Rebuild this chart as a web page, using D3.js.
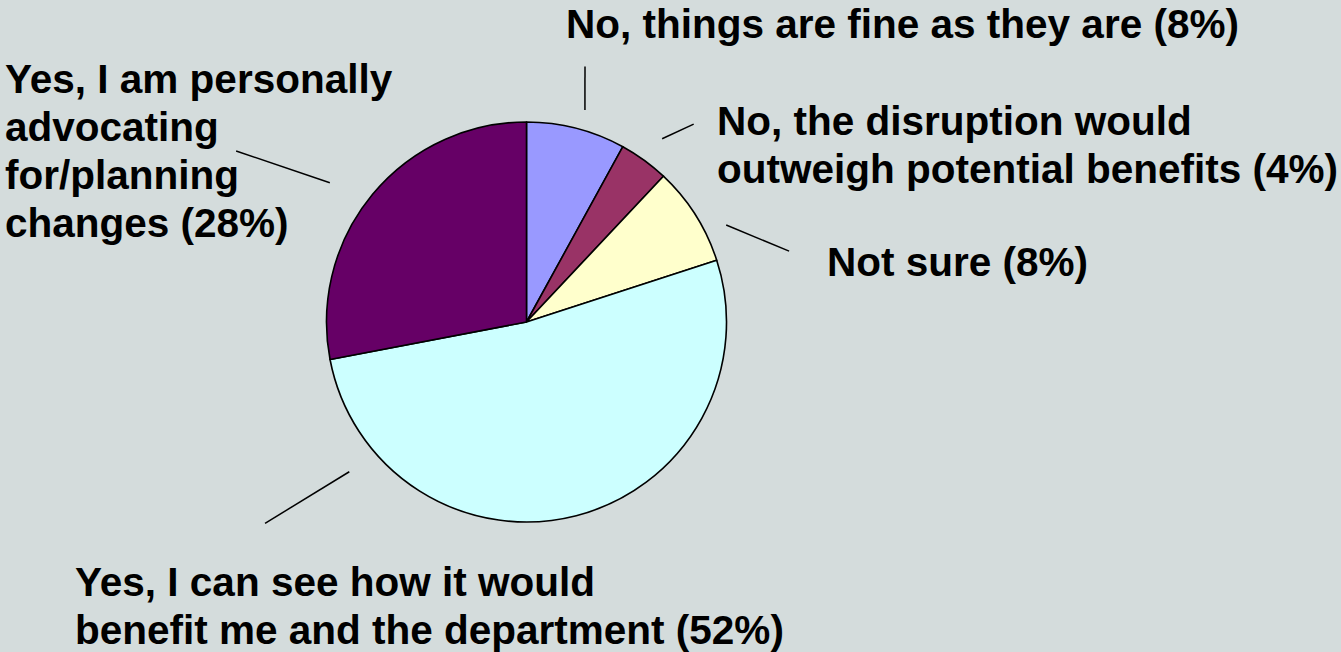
<!DOCTYPE html>
<html>
<head>
<meta charset="utf-8">
<script src="https://cdn.jsdelivr.net/npm/d3@7"></script>
<style>
  html, body { margin: 0; padding: 0; background: #d4dcdc; }
  svg { display: block; }
  .label { font-family: "Liberation Sans", Arial, sans-serif; font-weight: bold; font-size: 40.5px; fill: #000; }
</style>
</head>
<body>
<svg id="chart" width="1341" height="652"></svg>
<script>
// answers in order, clockwise from 12 o'clock
const answers = [
  'No, things are fine as they are',
  'No, the disruption would outweigh potential benefits',
  'Not sure',
  'Yes, I can see how it would benefit me and the department',
  'Yes, I am personally advocating for/planning changes'
];
const shares = [8, 4, 8, 52, 28];
const labelLines = [
  ['No, things are fine as they are (8%)'],
  ['No, the disruption would', 'outweigh potential benefits (4%)'],
  ['Not sure (8%)'],
  ['Yes, I can see how it would', 'benefit me and the department (52%)'],
  ['Yes, I am personally', 'advocating', 'for/planning', 'changes (28%)']
];
const sliceColors = ['#9999ff', '#993366', '#ffffcc', '#ccffff', '#660066'];

// label placement: text anchor (relative to the pie centre) and leader in polar form
const layout = [
  { x: 39.5,   y: -284, lead: [[15.4, 220], [12.9, 262]] },
  { x: 190.5,  y: -187, lead: [[36.5, 228], [40.2, 259]] },
  { x: 300.5,  y: -46,  lead: [[64.1, 222], [74.9, 272]] },
  { x: -451.5, y: 274,  lead: [[229.8, 232], [232.4, 330]] },
  { x: -521.5, y: -229, lead: [[305.3, 241], [300.5, 337]] }
];

const svg = d3.select('#chart');
const cx = 526.5, cy = 322, radius = 200;
const lineH = 48;

const g = svg.append('g').attr('transform', `translate(${cx},${cy})`);

const pie = d3.pie().sort(null).value(d => d);
const arc = d3.arc().innerRadius(0).outerRadius(radius);
const arcs = pie(shares);

g.selectAll('path.slice')
  .data(arcs)
  .enter().append('path')
    .attr('class', 'slice')
    .attr('d', arc)
    .attr('fill', (d, i) => sliceColors[i])
    .attr('stroke', '#000')
    .attr('stroke-width', 1.6)
    .attr('stroke-linejoin', 'round');

const rad = a => a * Math.PI / 180;

// leader lines
g.selectAll('line.leader')
  .data(layout)
  .enter().append('line')
    .attr('class', 'leader')
    .each(function (d) {
      const p0 = d3.pointRadial(rad(d.lead[0][0]), d.lead[0][1]);
      const p1 = d3.pointRadial(rad(d.lead[1][0]), d.lead[1][1]);
      d3.select(this)
        .attr('x1', p0[0]).attr('y1', p0[1])
        .attr('x2', p1[0]).attr('y2', p1[1]);
    })
    .attr('stroke', '#000')
    .attr('stroke-width', 1.5);

// labels
const labels = g.selectAll('text.label')
  .data(labelLines)
  .enter().append('text')
    .attr('class', 'label')
    .attr('x', (d, i) => layout[i].x)
    .attr('y', (d, i) => layout[i].y);

labels.selectAll('tspan')
  .data((d, i) => d.map(t => ({ t, i })))
  .enter().append('tspan')
    .attr('x', d => layout[d.i].x)
    .attr('dy', (d, j) => j === 0 ? 0 : lineH)
    .text(d => d.t);
</script>
</body>
</html>
